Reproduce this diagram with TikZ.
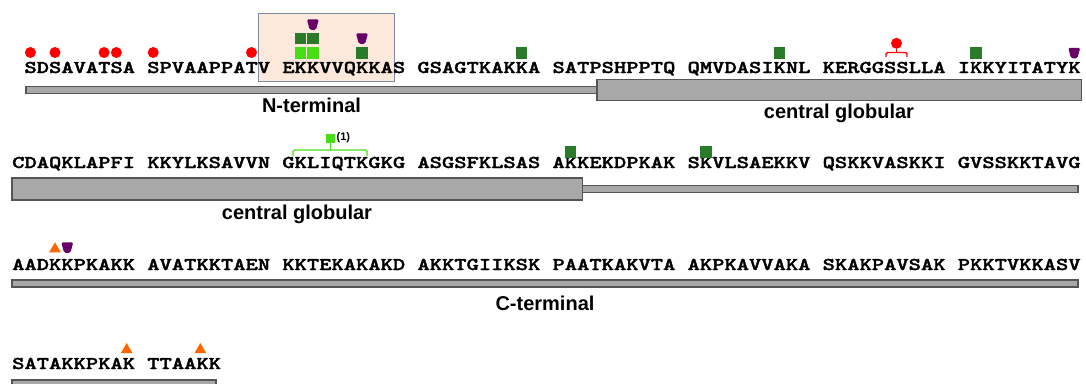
\documentclass[tikz,border=0pt]{standalone}
\usepackage{fontspec}
\usepackage{graphicx}
\newfontfamily\labelfont{Liberation Sans}
\newfontfamily\seqfont[FakeBold=1.6]{lmmonolt10-bold.otf}
\usetikzlibrary{shapes.geometric}

\definecolor{phosred}{RGB}{255,0,0}
\definecolor{acetgreen}{RGB}{42,122,42}
\definecolor{methgreen}{RGB}{70,222,20}
\definecolor{ubiqpurple}{RGB}{104,0,104}
\definecolor{triorange}{RGB}{255,102,0}
\definecolor{boxfill}{RGB}{252,233,220}
\definecolor{boxedge}{RGB}{125,138,160}
\definecolor{bargray}{RGB}{168,168,168}
\definecolor{baredge}{RGB}{85,85,85}

% one block of ten residues, wide typewriter letters
\newcommand{\seqblock}[1]{\scalebox{1.3}[1]{\seqfont\fontsize{18}{18}\selectfont #1}}
% centre of the residue cell i in a row
\newcommand{\rx}[1]{12+(#1+0.5)*12.28}

\begin{document}
\begin{tikzpicture}[x=1pt, y=-1pt,
	res/.style={anchor=base west, inner sep=0pt},
	dom/.style={anchor=base, inner sep=0pt, font=\labelfont\bfseries\fontsize{20}{20}\selectfont},
	thinbar/.style={draw=baredge, fill=bargray, line width=1.2pt},
	thickbar/.style={draw=baredge, fill=bargray, line width=1.2pt},
	region/.style={draw=boxedge, fill=boxfill, line width=0.8pt},
	phos/.style={circle, fill=phosred, inner sep=0pt, minimum size=11pt},
	acet/.style={rectangle, fill=acetgreen, inner sep=0pt, minimum size=11.5pt},
	meth/.style={rectangle, fill=methgreen, inner sep=0pt, minimum size=11.5pt},
	ubiq/.pic={\fill[ubiqpurple, rounded corners=1.5pt]
		(-6,-5.25) -- (6,-5.25) -- (3.2,5.25) -- (-3.2,5.25) -- cycle;},
	sumo/.style={regular polygon, regular polygon sides=3, fill=triorange,
		inner sep=0pt, minimum size=13.5pt},
	brphos/.style={draw=phosred, line width=1.4pt, rounded corners=1.5pt},
	brmeth/.style={draw=methgreen, line width=1.4pt, rounded corners=1.5pt},
	note/.style={anchor=west, inner sep=0pt, font=\labelfont\bfseries\fontsize{11}{11}\selectfont},
]
\useasboundingbox (0,0) rectangle (1086,383);
\clip (0,0) rectangle (1086,383);

% row 1
\draw[region] (258,13) rectangle (394,81);
\draw[thinbar] (26,86.5) rectangle (597,93.5);
\draw[thickbar] (597,79.5) rectangle (1081.5,100.5);
\node[res] (r1b0) at (24.28,73) {\seqblock{SDSAVATSA}};
\foreach \blk [count=\k from 1] in {SPVAAPPATV,EKKVVQKKAS,GSAGTKAKKA,SATPSHPPTQ,QMVDASIKNL,KERGGSSLLA,IKKYITATYK}
	\node[res] (r1b\k) at ({12+11*\k*12.28},73) {\seqblock{\blk}};
\node[dom] (d1) at (311.5,112) {N-terminal};
\node[dom] (d2) at (839,118) {central globular};
\foreach \i in {1,3,7,8,11,19}
	\node[phos] (p1s\i) at ({\rx{\i}},52.5) {};
\node[meth] (m1k23) at ({\rx{23}},53) {};
\node[meth] (m1k24) at ({\rx{24}},53) {};
\node[acet] (a1k23) at ({\rx{23}},38.5) {};
\node[acet] (a1k24) at ({\rx{24}},38.5) {};
\pic (u1k24) at ({\rx{24}},24.5) {ubiq};
\node[acet] (a1k28) at ({\rx{28}},53) {};
\pic (u1k28) at ({\rx{28}},38.5) {ubiq};
\foreach \i in {41,62,78}
	\node[acet] (a1k\i) at ({\rx{\i}},53) {};
\pic (u1k86) at ({\rx{86}},53) {ubiq};
\node[phos] (p1s71) at (896.5,43.3) {};
\coordinate (b1m) at (896.5,52.5);
\coordinate (b1l) at (886,57);
\coordinate (b1r) at (907,57);
\draw[brphos] (p1s71.south) -- (b1m);
\draw[brphos] (b1l) |- (b1m) -| (b1r);

% row 2
\draw[thickbar] (12,178) rectangle (582.7,200);
\draw[thinbar] (582.7,185.5) rectangle (1078,192.5);
\foreach \blk [count=\k from 0] in {CDAQKLAPFI,KKYLKSAVVN,GKLIQTKGKG,ASGSFKLSAS,AKKEKDPKAK,SKVLSAEKKV,QSKKVASKKI,GVSSKKTAVG}
	\node[res] (r2b\k) at ({12+11*\k*12.28},168) {\seqblock{\blk}};
\node[dom] (d3) at (297,219) {central globular};
\node[meth, minimum size=9pt] (m2x) at (330.5,138.5) {};
\node[note] (n2x) at (336.5,138) {(1)};
\coordinate (b2m) at (330.5,150);
\coordinate (b2l) at (293,156);
\coordinate (b2r) at (367,156);
\draw[brmeth] (m2x.south) -- (b2m);
\draw[brmeth] (b2l) |- (b2m) -| (b2r);
\foreach \i in {45,56}
	\node[acet] (a2k\i) at ({\rx{\i}},152) {};

% row 3
\draw[thinbar] (12,280) rectangle (1078,287);
\foreach \blk [count=\k from 0] in {AADKKPKAKK,AVATKKTAEN,KKTEKAKAKD,AKKTGIIKSK,PAATKAKVTA,AKPKAVVAKA,SKAKPAVSAK,PKKTVKKASV}
	\node[res] (r3b\k) at ({12+11*\k*12.28},270) {\seqblock{\blk}};
\node[dom] (d4) at (545,310) {C-terminal};
\node[sumo] (t3k3) at ({\rx{3}},249) {};
\pic (u3k4) at ({\rx{4}},247.5) {ubiq};

% row 4
\draw[thinbar] (12,380) rectangle (216,387);
\node[res] (r4b0) at (12,369) {\seqblock{SATAKKPKAK}};
\node[res] (r4b1) at ({12+11*12.28},369) {\seqblock{TTAAKK}};
\node[sumo] (t4k9) at ({\rx{9}-2},349.75) {};
\node[sumo] (t4k15) at ({\rx{15}-2},349.75) {};
\end{tikzpicture}
\end{document}
